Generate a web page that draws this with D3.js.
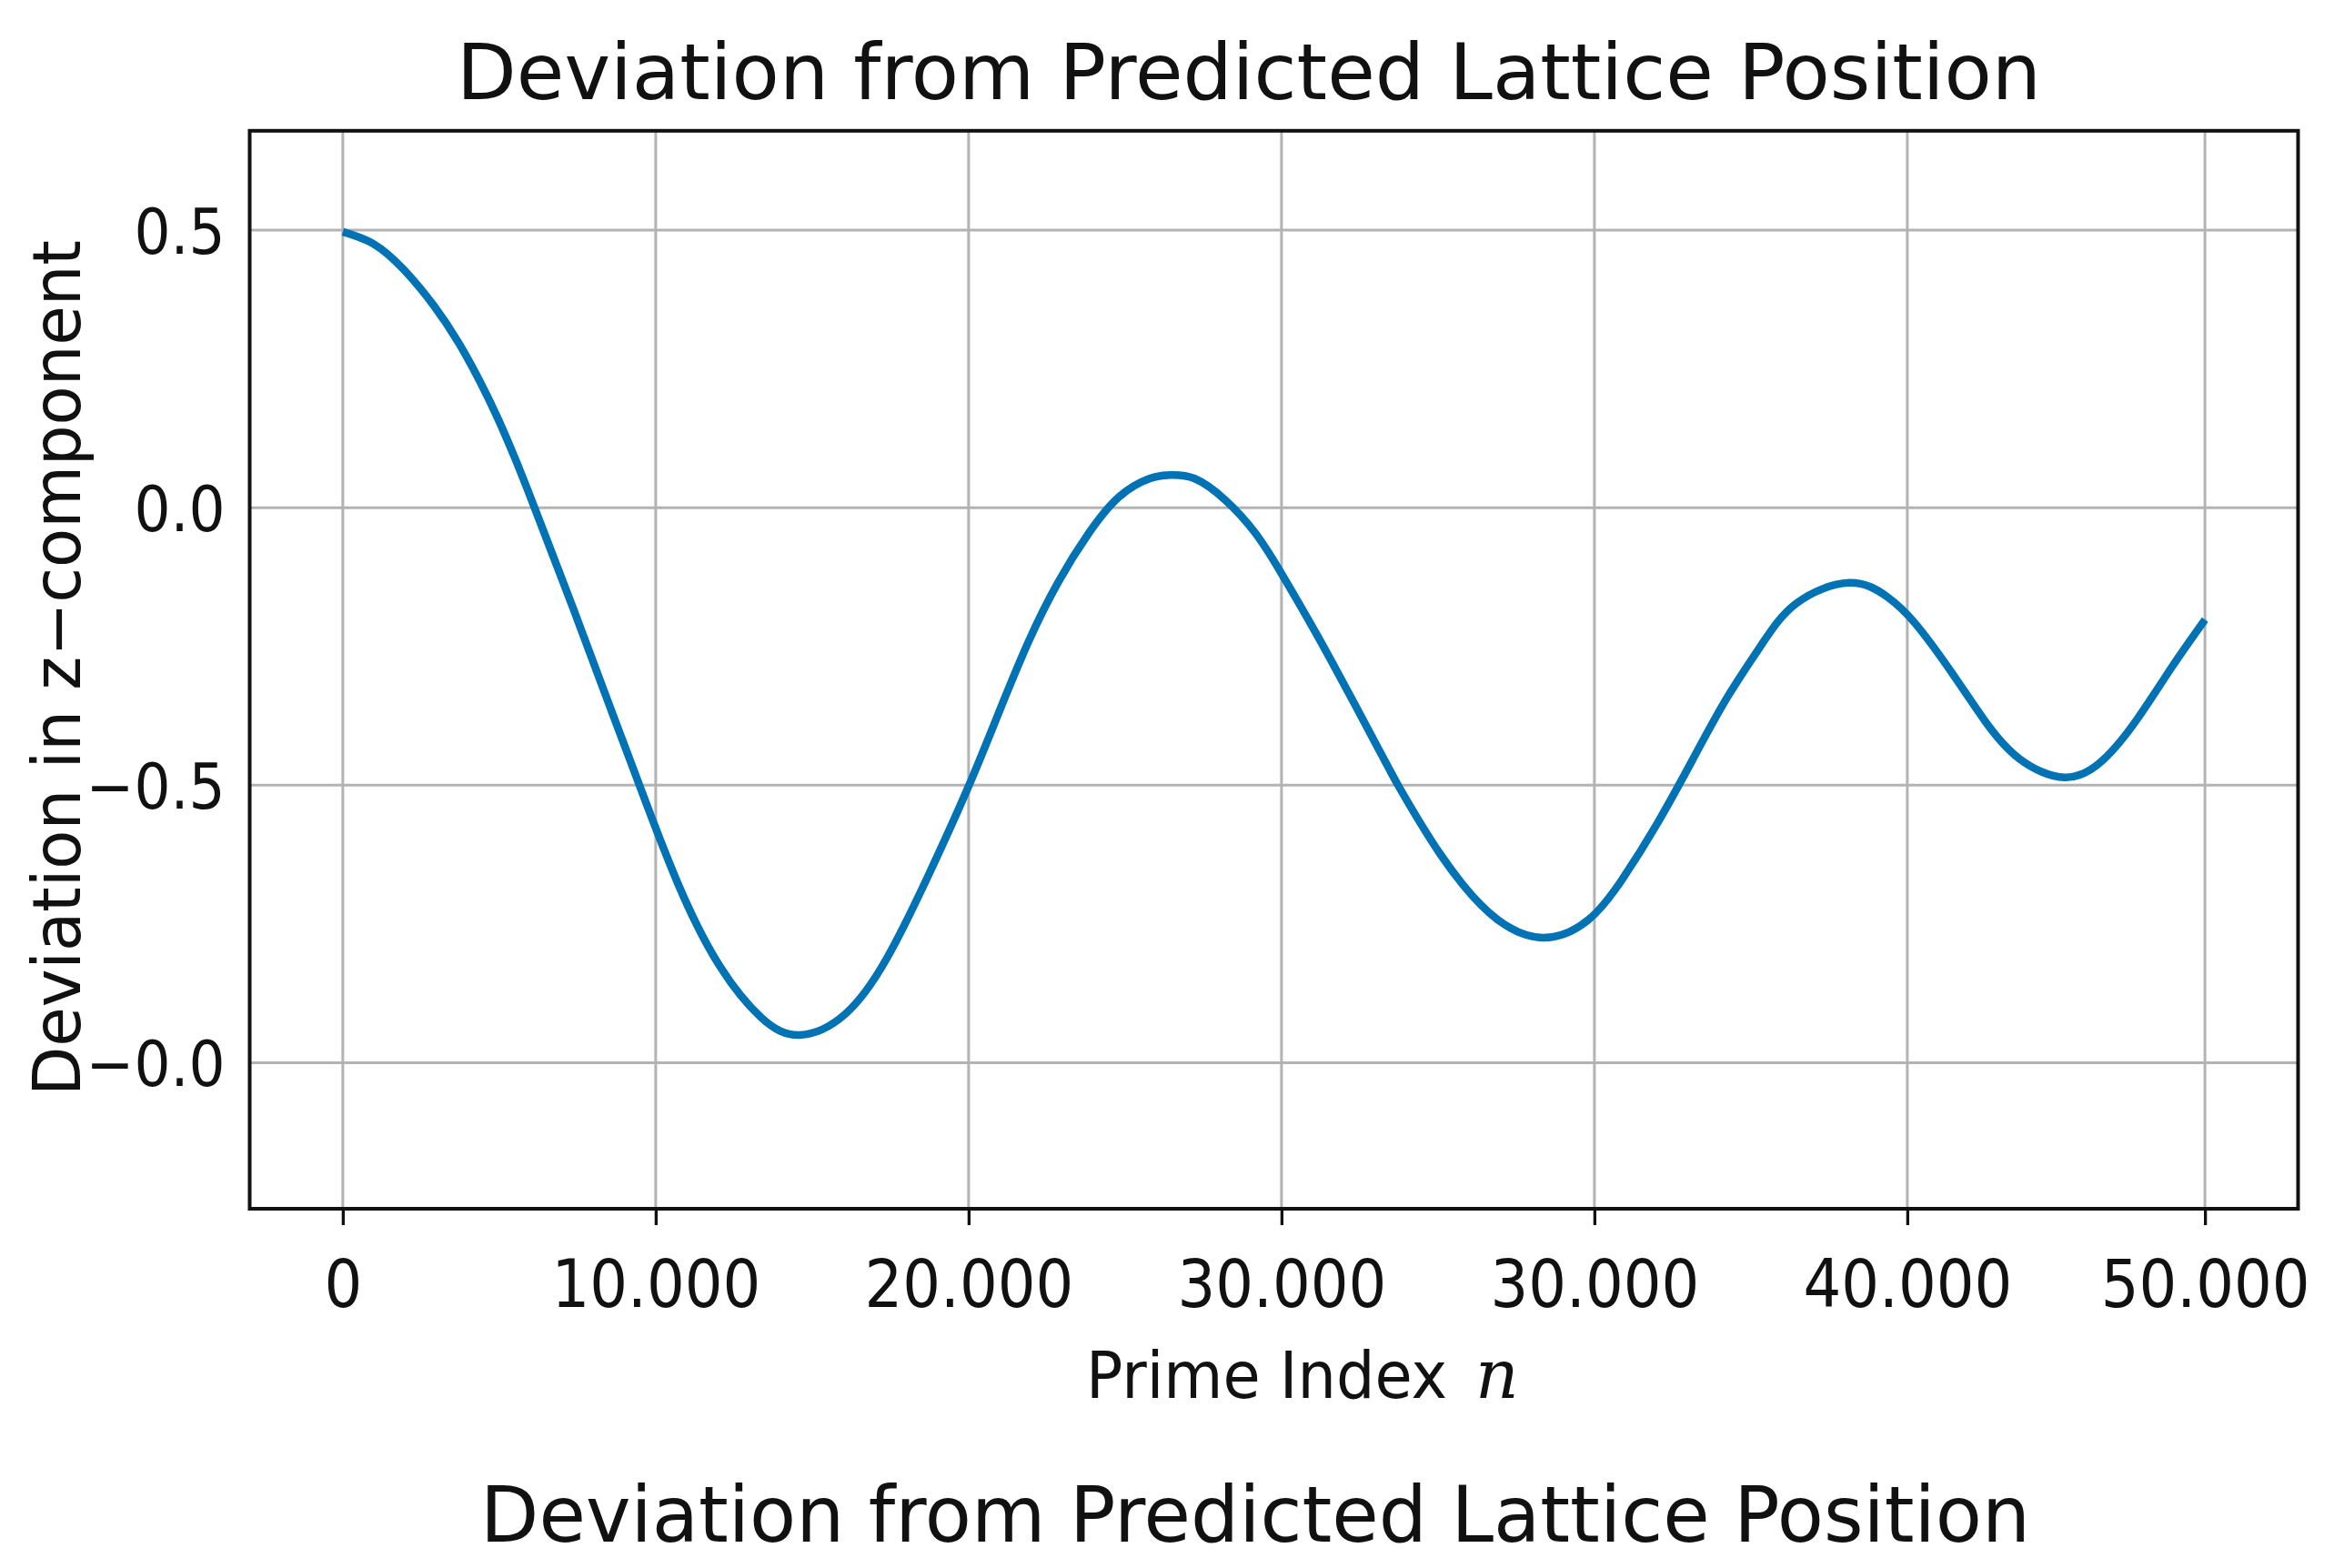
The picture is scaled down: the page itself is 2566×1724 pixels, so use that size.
<!DOCTYPE html>
<html>
<head>
<meta charset="utf-8">
<script src="https://cdn.jsdelivr.net/npm/d3@7"></script>
<style>
  html, body { margin: 0; padding: 0; background: #ffffff; }
  svg { display: block; }
  text { font-family: 'DejaVu Sans', sans-serif; fill: #111; }
  .tick text { font-family: 'DejaVu Sans Condensed', 'DejaVu Sans', sans-serif; font-stretch: condensed; }
  text.mathvar { font-family: 'DejaVu Serif', 'Liberation Serif', serif; font-style: italic; }
</style>
</head>
<body>
<svg id="chart" width="2566" height="1724"></svg>
<script>
// ---- data ----
const primeIndex = [0, 979, 1949, 2916, 3692, 4369, 4950, 5434, 5918, 6789, 7370, 7951, 8714, 9480,
  10716, 12049, 13383, 14605, 16052, 17385, 18718, 19968, 20935, 21905, 22872, 23840, 24810, 25777,
  26454, 27229, 28197, 29167, 30038, 31102, 32072, 33039, 33716, 34491, 35072, 35795, 36905, 38352,
  39796, 40908, 42018, 43130, 44243, 45352, 46465, 48132, 49355, 50244, 51357, 52467, 53576, 55023,
  56246, 57358, 58468, 59513];
const deviation = [0.497, 0.4754, 0.4289, 0.3634, 0.2979, 0.229, 0.1615, 0.0985, 0.0305, -0.097,
  -0.1824, -0.270, -0.385, -0.5, -0.678, -0.826, -0.919, -0.950, -0.9125, -0.812, -0.662, -0.506,
  -0.3735, -0.2425, -0.1333, -0.046, 0.0195, 0.0523, 0.0588, 0.0523, 0.0141, -0.046, -0.1223, -0.226,
  -0.326, -0.428, -0.499, -0.573, -0.624, -0.679, -0.742, -0.7746, -0.743, -0.668, -0.568, -0.455,
  -0.342, -0.246, -0.172, -0.1354, -0.1605, -0.208, -0.292, -0.383, -0.452, -0.486, -0.455, -0.380,
  -0.286, -0.2018];
const xTickValues = [0, 10000, 20000, 30000, 40000, 50000, 59513];
const xTickLabels = ["0", "10.000", "20.000", "30.000", "30.000", "40.000", "50.000"];
const yTickValues = [0.5, 0.0, -0.5, -1.0];
const yTickLabels = ["0.5", "0.0", "\u22120.5", "\u22120.0"];
const yLimits = [-1.263, 0.679];
const titleText = "Deviation from Predicted Lattice Position";
const captionText = "Deviation from Predicted Lattice Position";
const xLabelText = "Prime Index";
const xLabelVar = "n";
const yLabelText = "Deviation in z\u2212component";

// ---- layout ----
const plot = { left: 274.5, right: 2526.5, top: 143.8, bottom: 1329 };
const svg = d3.select("#chart");

const xMin = d3.min(primeIndex), xMax = d3.max(primeIndex);
const pad = 0.05 * (xMax - xMin);
const x = d3.scaleLinear().domain([xMin - pad, xMax + pad]).range([plot.left, plot.right]);
const y = d3.scaleLinear().domain(yLimits).range([plot.bottom, plot.top]);

// grid
const grid = svg.append("g");
grid.selectAll("line.vg").data(xTickValues).join("line")
  .attr("x1", d => x(d)).attr("x2", d => x(d))
  .attr("y1", plot.top).attr("y2", plot.bottom)
  .attr("stroke", "#b3b3b3").attr("stroke-width", 3);
grid.selectAll("line.hg").data(yTickValues).join("line")
  .attr("x1", plot.left).attr("x2", plot.right)
  .attr("y1", d => y(d)).attr("y2", d => y(d))
  .attr("stroke", "#b3b3b3").attr("stroke-width", 3);

// data line
const pts = primeIndex.map((v, i) => [v, deviation[i]]);
svg.append("path").datum(pts)
  .attr("fill", "none").attr("stroke", "#0173b5").attr("stroke-width", 8.5)
  .attr("stroke-linejoin", "round").attr("stroke-linecap", "butt")
  .attr("d", d3.line().x(d => x(d[0])).y(d => y(d[1])).curve(d3.curveNatural));

// x axis
const xAxis = svg.append("g").attr("transform", `translate(0,${plot.bottom})`)
  .call(d3.axisBottom(x).tickValues(xTickValues).tickSize(18).tickPadding(0)
    .tickFormat((d, i) => xTickLabels[i]));
xAxis.select(".domain").remove();
xAxis.selectAll(".tick line").attr("stroke", "#111").attr("stroke-width", 3.3);
xAxis.selectAll(".tick text").attr("y", 108).attr("dy", 0)
  .attr("font-size", 73).attr("fill", "#111");

// y axis
const yAxis = svg.append("g").attr("transform", `translate(${plot.left},0)`)
  .call(d3.axisLeft(y).tickValues(yTickValues).tickSize(0).tickPadding(27)
    .tickFormat((d, i) => yTickLabels[i]));
yAxis.select(".domain").remove();
yAxis.selectAll(".tick text").attr("dy", "0.36em").attr("font-size", 70).attr("fill", "#111");

// frame
svg.append("rect")
  .attr("x", plot.left).attr("y", plot.top)
  .attr("width", plot.right - plot.left).attr("height", plot.bottom - plot.top)
  .attr("fill", "none").attr("stroke", "#111").attr("stroke-width", 4);

// title
svg.append("text").attr("x", 1373).attr("y", 109).attr("text-anchor", "middle")
  .attr("font-size", 86).attr("textLength", 1742).attr("lengthAdjust", "spacingAndGlyphs")
  .text(titleText);

// x label (text + italic variable)
svg.append("text").attr("x", 1194).attr("y", 1537).attr("text-anchor", "start")
  .attr("font-size", 71).attr("textLength", 397).attr("lengthAdjust", "spacingAndGlyphs")
  .text(xLabelText);
svg.append("text").attr("class", "mathvar").attr("x", 1622).attr("y", 1537).attr("text-anchor", "start")
  .attr("font-size", 74)
  .text(xLabelVar);

// y label
svg.append("text").attr("transform", "translate(88,734.5) rotate(-90)")
  .attr("text-anchor", "middle").attr("font-size", 73)
  .attr("textLength", 941).attr("lengthAdjust", "spacingAndGlyphs")
  .text(yLabelText);

// caption
svg.append("text").attr("x", 1380).attr("y", 1695).attr("text-anchor", "middle")
  .attr("font-size", 86).attr("textLength", 1704).attr("lengthAdjust", "spacingAndGlyphs")
  .text(captionText);
</script>
</body>
</html>
